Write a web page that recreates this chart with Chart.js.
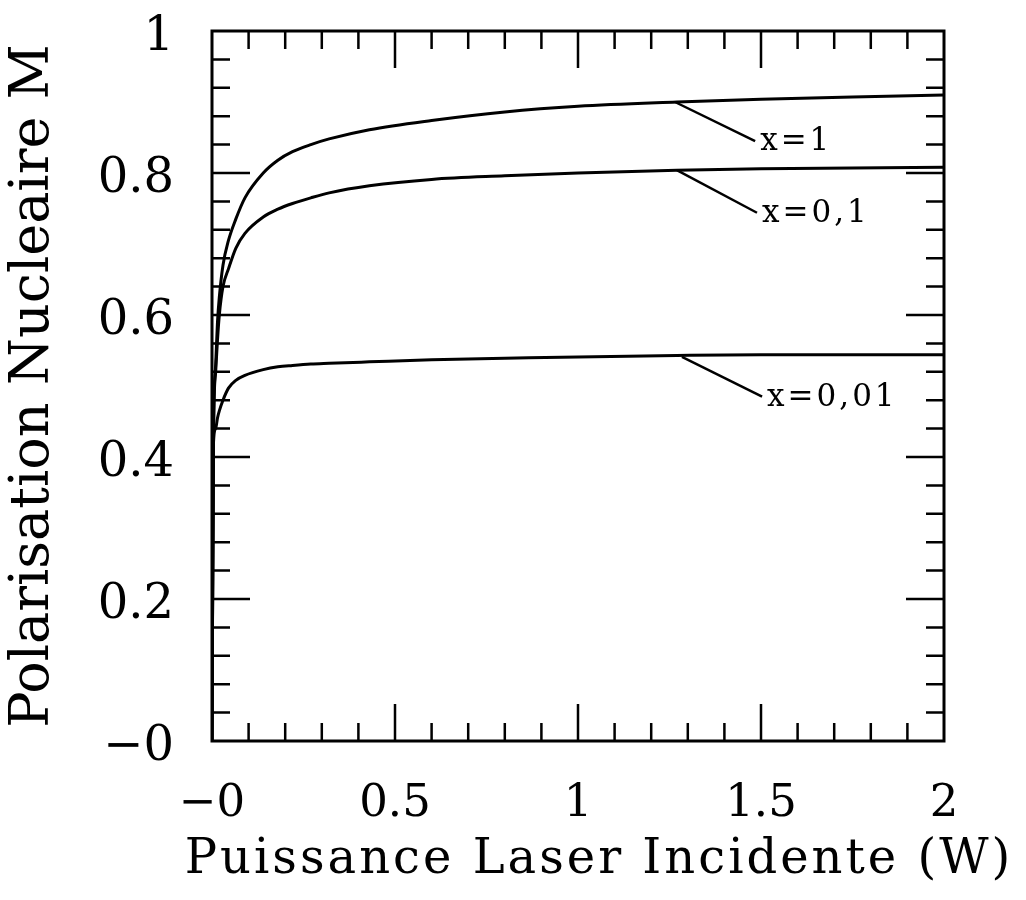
<!DOCTYPE html>
<html>
<head>
  <meta charset="UTF-8">
  <style>
    body { margin: 0; background: #fff; }
  </style>
</head>
<body>
  <canvas id="chart" width="1026" height="900"></canvas>

  <script src="https://cdn.jsdelivr.net/npm/chart.js"></script>
  <script>

    // puissance laser incidente (W)
    const power = [0, 0.004, 0.01, 0.015, 0.02, 0.03, 0.045, 0.065, 0.09, 0.14, 0.18, 0.22, 0.27, 0.32, 0.43, 0.6, 0.8, 1.0, 1.27, 1.5, 1.75, 2.0]
    // polarisation nucleaire M pour chaque x
    const polarX1   = [0, 0.43, 0.53, 0.59, 0.625, 0.67, 0.705, 0.735, 0.765, 0.80, 0.818, 0.83, 0.84, 0.848, 0.861, 0.874, 0.886, 0.894, 0.90, 0.904, 0.907, 0.91]
    const polarX01  = [0, 0.43, 0.52, 0.565, 0.60, 0.64, 0.665, 0.694, 0.715, 0.738, 0.749, 0.757, 0.765, 0.772, 0.782, 0.791, 0.796, 0.80, 0.804, 0.806, 0.807, 0.808]
    const polarX001 = [0, 0.42, 0.44, 0.455, 0.465, 0.48, 0.497, 0.508, 0.515, 0.523, 0.527, 0.529, 0.531, 0.532, 0.534, 0.537, 0.539, 0.541, 0.543, 0.544, 0.544, 0.544]
    const seriesNames = ['x=1', 'x=0,1', 'x=0,01']

    const xTickValues = [0, 0.5, 1, 1.5, 2]
    const xTickLabels = ['\u22120', '0.5', '1', '1.5', '2']
    const yTickValues = [0, 0.2, 0.4, 0.6, 0.8, 1]
    const yTickLabels = ['\u22120', '0.2', '0.4', '0.6', '0.8', '1']
    const xTitle = 'Puissance Laser Incidente (W)'
    const yTitle = 'Polarisation Nucleaire M'

    // etiquettes des courbes : depart du trait, fin du trait (valeurs des axes)
    const leaderFrom = [[1.265, 0.90], [1.27, 0.804], [1.284, 0.541]]
    const leaderTo   = [[1.484, 0.845], [1.489, 0.744], [1.503, 0.485]]

    const FONT = "'DejaVu Serif', serif"
    const SPACING = '3px'

    const toPoints = (ys) => power.map((p, i) => ({x: p, y: ys[i]}))

    // cadre + graduations vers l'interieur sur les 4 cotes, titre x et etiquettes
    const framePlugin = {
      id: 'frame',
      afterDatasetsDraw(chart){
        const ctx = chart.ctx
        const a = chart.chartArea
        const xs = chart.scales.x
        const ys = chart.scales.y
        ctx.save()
        ctx.strokeStyle = '#000'
        ctx.lineWidth = 3
        ctx.strokeRect(a.left, a.top, a.right - a.left, a.bottom - a.top)

        ctx.lineWidth = 2.5
        ctx.beginPath()
        for(let i = 1; i < 20; i++){
          const px = xs.getPixelForValue(i * 0.1)
          const len = i % 5 === 0 ? 37 : 18
          ctx.moveTo(px, a.bottom); ctx.lineTo(px, a.bottom - len)
          ctx.moveTo(px, a.top); ctx.lineTo(px, a.top + len)
        }
        for(let i = 1; i < 25; i++){
          const py = ys.getPixelForValue(i * 0.04)
          const len = i % 5 === 0 ? 38 : 18
          ctx.moveTo(a.left, py); ctx.lineTo(a.left + len, py)
          ctx.moveTo(a.right, py); ctx.lineTo(a.right - len, py)
        }
        ctx.stroke()

        // titre de l'axe x (trop large pour le titre Chart.js, qui le comprime)
        ctx.letterSpacing = SPACING
        ctx.fillStyle = '#000'
        ctx.font = '48px ' + FONT
        ctx.textAlign = 'center'
        ctx.textBaseline = 'alphabetic'
        ctx.fillText(xTitle, (a.left + a.right) / 2 + 21, chart.height - 27)

        // traits + textes x=...
        ctx.lineWidth = 2.5
        ctx.font = '31px ' + FONT
        ctx.textAlign = 'left'
        ctx.textBaseline = 'middle'
        for(let i = 0; i < seriesNames.length; i++){
          const x1 = xs.getPixelForValue(leaderFrom[i][0])
          const y1 = ys.getPixelForValue(leaderFrom[i][1])
          const x2 = xs.getPixelForValue(leaderTo[i][0])
          const y2 = ys.getPixelForValue(leaderTo[i][1])
          ctx.beginPath()
          ctx.moveTo(x1, y1)
          ctx.lineTo(x2, y2)
          ctx.stroke()
          ctx.fillText(seriesNames[i], x2 + 5, y2 + 1)
        }
        ctx.restore()
      }
    }

    const lineStyle = {
      borderColor: '#000',
      borderWidth: 3,
      pointRadius: 0,
      fill: false,
      cubicInterpolationMode: 'monotone'
    }

    const chart = new Chart(document.getElementById('chart'), {
      type: 'line',
      data: {
        datasets: [
          {label: seriesNames[0], data: toPoints(polarX1), ...lineStyle},
          {label: seriesNames[1], data: toPoints(polarX01), ...lineStyle},
          {label: seriesNames[2], data: toPoints(polarX001), ...lineStyle}
        ]
      },
      plugins: [framePlugin],
      options: {
        responsive: false,
        animation: false,
        layout: {
          padding: {top: 31, right: 82, bottom: 0, left: 0}
        },
        plugins: {
          legend: {display: false},
          tooltip: {enabled: false}
        },
        scales: {
          x: {
            type: 'linear',
            min: 0,
            max: 2,
            afterBuildTicks: (scale) => { scale.ticks = xTickValues.map(v => ({value: v})) },
            afterFit: (scale) => {
              scale.height = 159
              scale.paddingLeft = 0
              scale.paddingRight = 0
            },
            grid: {display: false},
            border: {display: false},
            ticks: {
              color: '#000',
              padding: 28,
              maxRotation: 0,
              font: {family: FONT, size: 45},
              callback: (value) => xTickLabels[xTickValues.indexOf(value)]
            },
            title: {display: false}
          },
          y: {
            min: 0,
            max: 1,
            afterBuildTicks: (scale) => { scale.ticks = yTickValues.map(v => ({value: v})) },
            afterFit: (scale) => {
              scale.width = 212
              scale.paddingTop = 0
              scale.paddingBottom = 0
            },
            grid: {display: false},
            border: {display: false},
            ticks: {
              color: '#000',
              padding: 30,
              labelOffset: 7,
              font: {family: FONT, size: 48},
              callback: (value) => yTickLabels[yTickValues.indexOf(value)]
            },
            title: {
              display: true,
              text: yTitle,
              color: '#000',
              font: {family: FONT, size: 54},
              padding: {top: 2, bottom: 0}
            }
          }
        }
      }
    })

  </script>
</body>
</html>
